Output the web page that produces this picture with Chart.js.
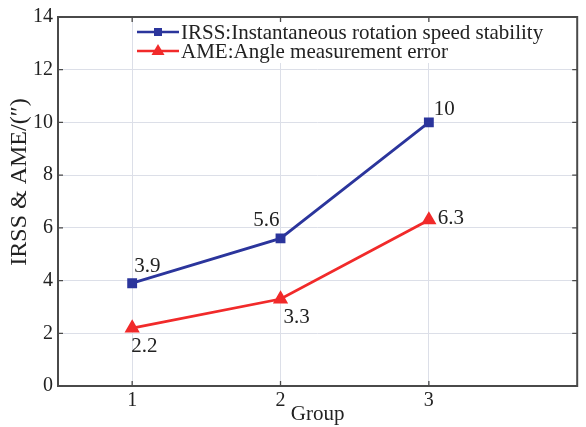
<!DOCTYPE html>
<html>
<head>
<meta charset="UTF-8">
<title>IRSS & AME</title>
<script src="https://cdn.jsdelivr.net/npm/chart.js"></script>
<style>
  html, body { margin: 0; padding: 0; background: #fff; }
  #wrap { width: 586px; height: 427px; position: relative; }
</style>
</head>
<body>
<div id="wrap"><canvas id="c"></canvas></div>
<script>
const groups = [1, 2, 3];
const irss = [3.9, 5.6, 10];
const ame = [2.2, 3.3, 6.3];
const yTicks = [0, 2, 4, 6, 8, 10, 12, 14];
const irssName = "IRSS:Instantaneous rotation speed stability";
const ameName = "AME:Angle measurement error";
const yTitle = "IRSS & AME/(\u2033)";

const FONT = "'Liberation Serif', 'Times New Roman', serif";
const BLUE = "#2b359c";
const RED = "#f12a2a";

// label offsets [dx, dy, align] relative to each point
const irssLab = [[2, -17, "left"], [-1, -18, "right"], [5, -13, "left"]];
const ameLab = [[-1, 18, "left"], [3, 18, "left"], [9, -1, "left"]];

const extras = {
  id: "extras",
  beforeDatasetsDraw(chart) {
    const { ctx, chartArea: a } = chart;
    // legend box covers grid
    ctx.save();
    ctx.fillStyle = "#fff";
    ctx.fillRect(134, 20, a.right - 136, 43);
    ctx.restore();
  },
  afterDatasetsDraw(chart) {
    const { ctx, chartArea: a, scales } = chart;
    const x = scales.x, y = scales.y;
    ctx.save();
    // frame
    ctx.strokeStyle = "#4a4a4a";
    ctx.lineWidth = 2;
    ctx.strokeRect(a.left, a.top, a.right - a.left, a.bottom - a.top);
    // inward tick marks
    ctx.lineWidth = 1.3;
    ctx.beginPath();
    groups.forEach(g => {
      const px = x.getPixelForValue(g);
      ctx.moveTo(px, a.bottom); ctx.lineTo(px, a.bottom - 5);
      ctx.moveTo(px, a.top); ctx.lineTo(px, a.top + 5);
    });
    yTicks.forEach(t => {
      const py = y.getPixelForValue(t);
      ctx.moveTo(a.left, py); ctx.lineTo(a.left + 5, py);
      ctx.moveTo(a.right, py); ctx.lineTo(a.right - 5, py);
    });
    ctx.stroke();

    // data labels
    ctx.fillStyle = "#222";
    ctx.font = "21px " + FONT;
    ctx.textBaseline = "middle";
    const lab = (vals, offs) => vals.forEach((v, i) => {
      const px = x.getPixelForValue(groups[i]);
      const py = y.getPixelForValue(v);
      ctx.textAlign = offs[i][2];
      ctx.fillText(String(v), px + offs[i][0], py + offs[i][1]);
    });
    lab(irss, irssLab);
    lab(ame, ameLab);

    // legend
    const items = [[irssName, BLUE, "rect"], [ameName, RED, "tri"]];
    items.forEach((it, i) => {
      const ly = 32 + i * 19;
      ctx.strokeStyle = it[1];
      ctx.fillStyle = it[1];
      ctx.lineWidth = 2.5;
      ctx.beginPath(); ctx.moveTo(137, ly); ctx.lineTo(179, ly); ctx.stroke();
      if (it[2] === "rect") {
        ctx.fillRect(154, ly - 4, 8, 8);
      } else {
        ctx.beginPath();
        ctx.moveTo(158, ly - 7); ctx.lineTo(164.5, ly + 4); ctx.lineTo(151.5, ly + 4);
        ctx.closePath(); ctx.fill();
      }
      ctx.fillStyle = "#222";
      ctx.textAlign = "left";
      ctx.font = "21px " + FONT;
      ctx.fillText(it[0], 181, ly + 1);
    });

    // y title
    ctx.translate(20, 182);
    ctx.rotate(-Math.PI / 2);
    ctx.textAlign = "center";
    ctx.font = "24px " + FONT;
    ctx.fillText(yTitle, 0, 0);
    ctx.restore();
  }
};

new Chart(document.getElementById("c"), {
  type: "line",
  data: {
    datasets: [
      {
        label: irssName,
        data: groups.map((g, i) => ({ x: g, y: irss[i] })),
        borderColor: BLUE,
        backgroundColor: BLUE,
        borderWidth: 2.8,
        pointStyle: "rect",
        pointRadius: 5,
        tension: 0
      },
      {
        label: ameName,
        data: groups.map((g, i) => ({ x: g, y: ame[i] })),
        borderColor: RED,
        backgroundColor: RED,
        borderWidth: 2.8,
        pointStyle: "triangle",
        pointRadius: 6,
        tension: 0
      }
    ]
  },
  options: {
    responsive: true,
    maintainAspectRatio: false,
    animation: false,
    layout: { padding: { top: 14, right: 7, left: 0, bottom: 0 } },
    plugins: { legend: { display: false }, tooltip: { enabled: false } },
    scales: {
      x: {
        type: "linear",
        min: 0.5,
        max: 4,
        afterBuildTicks: s => { s.ticks = groups.map(v => ({ value: v })); },
        afterFit: s => { s.height = 41; },
        grid: { color: "#dcdfe8", lineWidth: 1, drawTicks: false },
        border: { display: false },
        ticks: { color: "#222", font: { family: FONT, size: 20 }, padding: 3 },
        title: { display: true, text: "Group", color: "#222", font: { family: FONT, size: 21 }, padding: 0 }
      },
      y: {
        min: 0,
        max: 14,
        afterBuildTicks: s => { s.ticks = yTicks.map(v => ({ value: v })); },
        afterFit: s => { s.width = 58; },
        grid: { color: "#dcdfe8", lineWidth: 1, drawTicks: false },
        border: { display: false },
        ticks: { color: "#222", font: { family: FONT, size: 20 }, padding: 5 },
        title: { display: false }
      }
    }
  },
  plugins: [extras]
});
</script>
</body>
</html>
